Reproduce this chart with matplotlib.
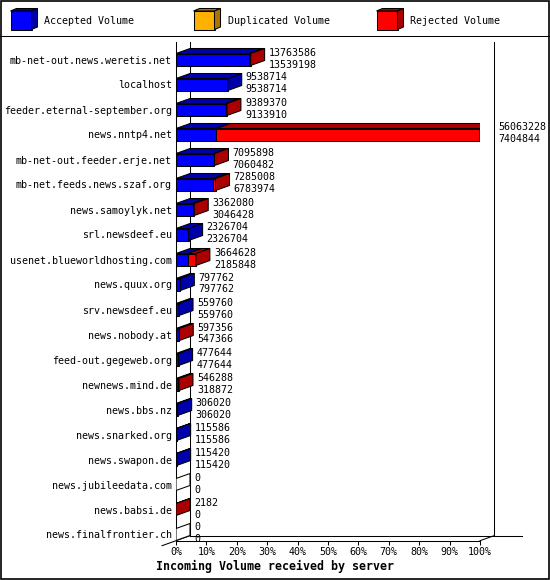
import matplotlib
matplotlib.use("Agg")
import matplotlib.pyplot as plt
from matplotlib.patches import Polygon, Rectangle
from matplotlib.lines import Line2D

# data
hosts = [
    "mb-net-out.news.weretis.net", "localhost", "feeder.eternal-september.org",
    "news.nntp4.net", "mb-net-out.feeder.erje.net", "mb-net.feeds.news.szaf.org",
    "news.samoylyk.net", "srl.newsdeef.eu", "usenet.blueworldhosting.com",
    "news.quux.org", "srv.newsdeef.eu", "news.nobody.at", "feed-out.gegeweb.org",
    "newnews.mind.de", "news.bbs.nz", "news.snarked.org", "news.swapon.de",
    "news.jubileedata.com", "news.babsi.de", "news.finalfrontier.ch",
]
offered = [13763586, 9538714, 9389370, 56063228, 7095898, 7285008, 3362080,
           2326704, 3664628, 797762, 559760, 597356, 477644, 546288, 306020,
           115586, 115420, 0, 2182, 0]
accepted = [13539198, 9538714, 9133910, 7404844, 7060482, 6783974, 3046428,
            2326704, 2185848, 797762, 559760, 547366, 477644, 318872, 306020,
            115586, 115420, 0, 0, 0]
duplicated = [0] * len(hosts)
legend_labels = ["Accepted Volume", "Duplicated Volume", "Rejected Volume"]

colors = ["#0000ff", "#ffb000", "#ff0000"]
darks = ["#0000aa", "#aa7500", "#aa0000"]

W, H = 550, 580
FONT = "DejaVu Sans Mono"
FS = 7.2
LW = 0.75

fig = plt.figure(figsize=(W / 100, H / 100), dpi=100)
fig.patch.set_facecolor("white")

# main axes: x = percent of the largest offered volume, y = row index
ax = fig.add_axes([176 / W, (H - 540.7) / H, 304 / W, (540.7 - 42) / H])
ax.set_xlim(0, 100)
ax.set_ylim(19.248, -0.7)
ax.set_facecolor("none")

DX = 14 / 3.04   # depth in percent
DY = 5 / 25      # depth in rows
BH = 12 / 25     # bar height in rows

vmax = max(offered)
for i, host in enumerate(hosts):
    acc = accepted[i] / vmax * 100
    dup = duplicated[i] / vmax * 100
    rej = (offered[i] - accepted[i] - duplicated[i]) / vmax * 100
    segs = [acc, dup, rej]
    top, bot = i - BH / 2, i + BH / 2
    left = 0
    last_dark = None
    for k, w in enumerate(segs):
        if w <= 0:
            continue
        ax.barh(i, w, left=left, height=BH, color=colors[k],
                edgecolor="black", linewidth=LW, zorder=3)
        ax.add_patch(Polygon([(left, top), (left + w, top), (left + w + DX, top - DY),
                              (left + DX, top - DY)], closed=True,
                             facecolor=darks[k], edgecolor="black", linewidth=LW, zorder=3))
        left += w
        last_dark = darks[k]
    side_col = last_dark if last_dark else "white"
    ax.add_patch(Polygon([(left, top), (left + DX, top - DY), (left + DX, bot - DY),
                          (left, bot)], closed=True, facecolor=side_col,
                         edgecolor="black", linewidth=LW, zorder=3))
    tx = left + DX + 4 / 3.04
    ax.text(tx, i - 7 / 25, str(offered[i]), ha="left", va="center",
            family=FONT, fontsize=FS, zorder=4, clip_on=False)
    ax.text(tx, i + 5 / 25, str(accepted[i]), ha="left", va="center",
            family=FONT, fontsize=FS, zorder=4, clip_on=False)

# back walls and floor of the 3D frame
floor_back = 19.248 - DY
kw = dict(color="black", linewidth=LW, clip_on=False, zorder=2)
ax.plot([DX, DX], [-0.7, floor_back], **kw)
ax.plot([100 + DX, 100 + DX], [-0.7, floor_back], **kw)
ax.plot([DX, (522 - 176) / 3.04], [floor_back, floor_back], **kw)
ax.plot([-DX, DX], [19.248 + DY, floor_back], **kw)
ax.plot([100, 100 + DX], [19.248, floor_back], **kw)

for s in ["top", "right"]:
    ax.spines[s].set_visible(False)
for s in ["left", "bottom"]:
    ax.spines[s].set_linewidth(LW)

ax.set_xticks(range(0, 101, 10))
ax.set_xticklabels([f"{v}%" for v in range(0, 101, 10)], family=FONT, fontsize=FS)
ax.tick_params(axis="x", direction="out", length=3, width=LW, pad=1.5)
ax.set_yticks(range(len(hosts)))
ax.set_yticklabels(hosts, family=FONT, fontsize=FS)
ax.tick_params(axis="y", length=0, pad=3)

fig.text(156 / W, 1 - 566.5 / H, "Incoming Volume received by server",
         family=FONT, fontweight="bold", fontsize=8.4, ha="left", va="center")

# legend strip
lax = fig.add_axes([0, 0, 1, 1])
lax.set_xlim(0, W)
lax.set_ylim(H, 0)
lax.set_axis_off()
lax.set_zorder(-1)
for k, (lab, x0) in enumerate(zip(legend_labels, [10.5, 193.5, 376.5])):
    fx0, fx1, fy0, fy1 = x0, x0 + 21, 11, 29.5
    ddx, ddy = 6, 2.5
    lax.add_patch(Rectangle((fx0, fy0), fx1 - fx0, fy1 - fy0, facecolor=colors[k],
                            edgecolor="black", linewidth=LW))
    lax.add_patch(Polygon([(fx0, fy0), (fx1, fy0), (fx1 + ddx, fy0 - ddy),
                           (fx0 + ddx, fy0 - ddy)], closed=True, facecolor=darks[k],
                          edgecolor="black", linewidth=LW))
    lax.add_patch(Polygon([(fx1, fy0), (fx1 + ddx, fy0 - ddy), (fx1 + ddx, fy1 - ddy),
                           (fx1, fy1)], closed=True, facecolor=darks[k],
                          edgecolor="black", linewidth=LW))
    lax.text(x0 + 34, 21, lab, family=FONT, fontsize=FS, ha="left", va="center")
lax.plot([0, W], [36, 36], color="black", linewidth=LW)
lax.add_patch(Rectangle((0.5, 0.5), W - 1.5, H - 1.5, facecolor="none",
                        edgecolor="black", linewidth=1.2))

fig.savefig("out.png", dpi=100)
